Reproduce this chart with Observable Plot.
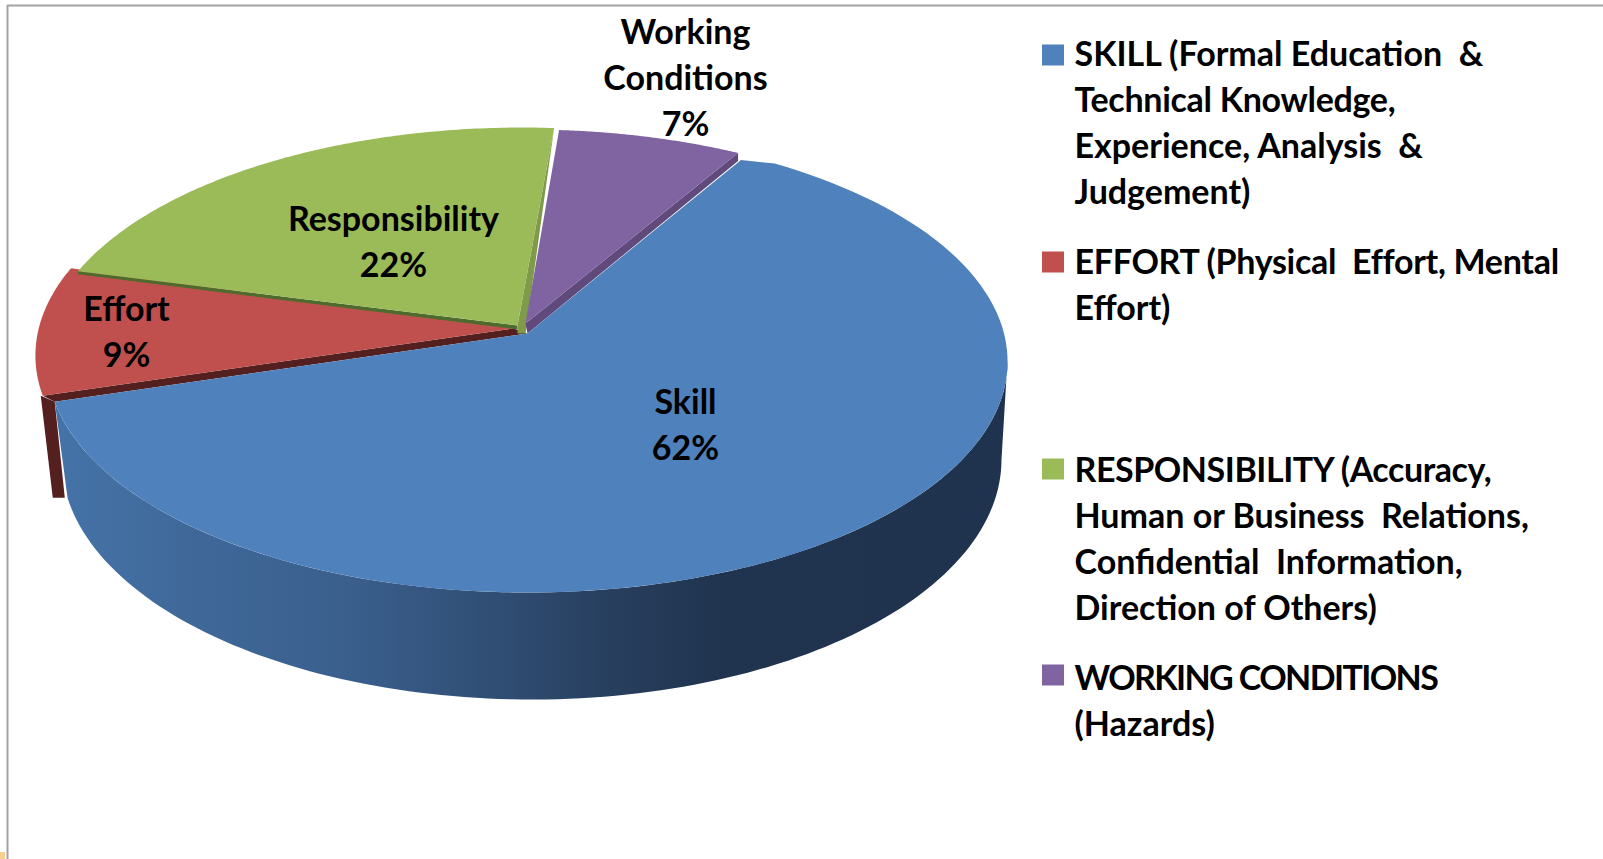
<!DOCTYPE html>
<html>
<head>
<meta charset="utf-8">
<script src="https://cdn.jsdelivr.net/npm/d3@7"></script>
<script src="https://cdn.jsdelivr.net/npm/@observablehq/plot@0.6"></script>
<style>
html,body{margin:0;padding:0;background:#fff;}
svg{display:block;}
</style>
</head>
<body>
<div id="chart"></div>
<script>
// ---- data ----
const categories = ["Skill", "Effort", "Responsibility", "Working Conditions"];
const percentages = [62, 9, 22, 7];
const labelLines = ["Skill", "Effort", "Responsibility", "Working\nConditions"];
const legendTexts = [
  "SKILL (Formal Education  &\nTechnical Knowledge,\nExperience, Analysis  &\nJudgement)",
  "EFFORT (Physical  Effort, Mental\nEffort)",
  "RESPONSIBILITY (Accuracy,\nHuman or Business  Relations,\nConfidential  Information,\nDirection of Others)",
  "WORKING CONDITIONS\n(Hazards)"
];

// ---- styles and layout, kept apart from the values ----
const W = 1603, H = 859;
const font = "Lato";
const fontSize = 34, lineGap = 46;
const topColors = ["#4f81bd", "#c0504d", "#9bbb59", "#8064a2"];
const wallColors = {effort: "#54201f", respLeft: "#4e6b2d", respRight: "#7f9a48", working: "#604a7b"};
const labelAt = [[685, 422], [126, 329], [393, 239], [685, 75]];
const legendFirstLine = [54, 262, 470, 678];
const swatchMid = [55, 262, 469, 675];
const legendX = 1074, swatchX = 1042, swatchW = 22, swatchH = 21;
const tightLines = {
  "RESPONSIBILITY (Accuracy,": -0.45,
  "EFFORT (Physical  Effort, Mental": -0.3,
  "WORKING CONDITIONS": -1.6,
  "Technical Knowledge,": -0.3
};

// perspective pie: centre of the disc and its projection
const cx = 527, cy = 330, A = 476, h = 184.2, k = 0.13, startAngle = 60.5;
const rimShift = [[0, 1], [-12, -5], [-5, -2], [0, 0]];
const apexes = [[527, 333], [513, 328], [517, 325], [525, 323]];
const rim = (deg, [dx, dy]) => {
  const t = deg * Math.PI / 180, s = Math.sin(t), c = Math.cos(t), q = 1 + k * s;
  return {x: cx + A * c / q + dx, y: (cy - h * s) / q + dy};
};
// lower edge of the side wall
const lower = (deg) => {
  const t = deg * Math.PI / 180;
  return {x: 531 + 470 * Math.cos(t), y: 459 - 240 * Math.sin(t)};
};
const pt = ([x, y]) => ({x, y});

// slices, running clockwise from startAngle
let run = 0;
const slices = percentages.map((v, i) => {
  const a0 = startAngle - run * 3.6;
  run += v;
  const a1 = startAngle - run * 3.6;
  const arc = d3.range(0, 121).map(j => rim(a0 + (a1 - a0) * j / 120, rimShift[i]));
  return {i, a0, a1, arc, apex: pt(apexes[i]), poly: [pt(apexes[i]), ...arc]};
});
const [skill, effort, resp, working] = slices;
const first = s => s.arc[0], last = s => s.arc[s.arc.length - 1];
const sh = (p, dx, dy) => ({x: p.x + dx, y: p.y + dy});

// the blue top sits a little below the purple corner
const skillTop = [skill.apex, sh(first(skill), 3, 6), ...skill.arc.slice(3)];

// side walls
const skillSide = [
  ...d3.range(0, 121).map(j => rim(-7 + (skill.a1 + 7) * j / 120, rimShift[0])),
  ...d3.range(0, 121).map(j => lower(-170.8 + 170.8 * j / 120))
];
const effortFront = [first(effort), effort.apex, skill.apex, last(skill)];
const effortOuter = [sh(first(effort), -2, 0), last(skill), sh(last(skill), 10, 96), sh(first(effort), 10, 102)];
const respLeft = [first(resp), resp.apex, sh(resp.apex, 0, 4), sh(first(resp), 0, 3)];
const respRight = [last(resp), resp.apex, sh(resp.apex, 0, 8), sh(resp.apex, 8, 8)];
const workRight = [last(working), sh(last(working), 0, 8), skill.apex, working.apex];

const poly = (pts, fill) => Plot.line(pts, {x: "x", y: "y", fill, stroke: "none"});

const defs = () => {
  const svgNS = "http://www.w3.org/2000/svg";
  const d = document.createElementNS(svgNS, "defs");
  const g = document.createElementNS(svgNS, "linearGradient");
  g.setAttribute("id", "sideGrad");
  [[0, "#4573a8"], [0.15, "#3f6898"], [0.31, "#3a5f8d"], [0.52, "#2c476a"], [0.59, "#273e5d"], [0.7, "#20344f"], [1, "#1f334e"]]
    .forEach(([o, c]) => {
      const st = document.createElementNS(svgNS, "stop");
      st.setAttribute("offset", o);
      st.setAttribute("stop-color", c);
      g.appendChild(st);
    });
  d.appendChild(g);
  return d;
};

const pieLabels = categories.map((c, i) => ({
  text: `${labelLines[i]}\n${percentages[i]}%`, x: labelAt[i][0], y: labelAt[i][1]
}));
const legendRows = legendTexts.map((t, i) => ({
  text: t, x: legendX, y: legendFirstLine[i], color: topColors[i],
  x1: swatchX, x2: swatchX + swatchW,
  y1: swatchMid[i] - swatchH / 2, y2: swatchMid[i] + swatchH / 2
}));

const chart = Plot.plot({
  width: W, height: H,
  margin: 0,
  style: {background: "#fff", overflow: "hidden"},
  x: {domain: [0, W], range: [0, W], axis: null},
  y: {domain: [0, H], range: [0, H], axis: null},
  marks: [
    defs,
    // frame of the screenshot
    Plot.ruleY([5], {x1: 7, x2: W, stroke: "#a2a2a2", strokeWidth: 2}),
    Plot.ruleX([7], {y1: 5, y2: H, stroke: "#a2a2a2", strokeWidth: 2}),
    Plot.rect([{x1: 0, x2: 5, y1: 852, y2: H}], {x1: "x1", x2: "x2", y1: "y1", y2: "y2", fill: "#f6d08e"}),
    // pie
    poly(effortOuter, wallColors.effort),
    poly(effortFront, wallColors.effort),
    poly(effort.poly, topColors[1]),
    poly(respLeft, wallColors.respLeft),
    poly(respRight, wallColors.respRight),
    poly(resp.poly, topColors[2]),
    poly(workRight, wallColors.working),
    poly(working.poly, topColors[3]),
    poly(skillSide, "url(#sideGrad)"),
    poly(skillTop, topColors[0]),
    // labels on the slices
    Plot.text(pieLabels, {
      x: "x", y: "y", text: "text", fill: "#000", fontFamily: font, fontWeight: 700,
      fontSize, lineHeight: lineGap / fontSize, lineAnchor: "middle", textAnchor: "middle"
    }),
    // legend
    Plot.rect(legendRows, {x1: "x1", x2: "x2", y1: "y1", y2: "y2", fill: "color"}),
    Plot.text(legendRows, {
      x: "x", y: d => d.y - lineGap / 2 + 2, text: "text", fill: "#000", fontFamily: font, fontWeight: 700,
      fontSize, lineHeight: lineGap / fontSize, lineAnchor: "top", textAnchor: "start"
    })
  ]
});
chart.querySelectorAll("tspan").forEach(t => {
  const ls = tightLines[t.textContent];
  if (ls !== undefined) t.setAttribute("letter-spacing", ls);
});
document.getElementById("chart").appendChild(chart);
</script>
</body>
</html>
